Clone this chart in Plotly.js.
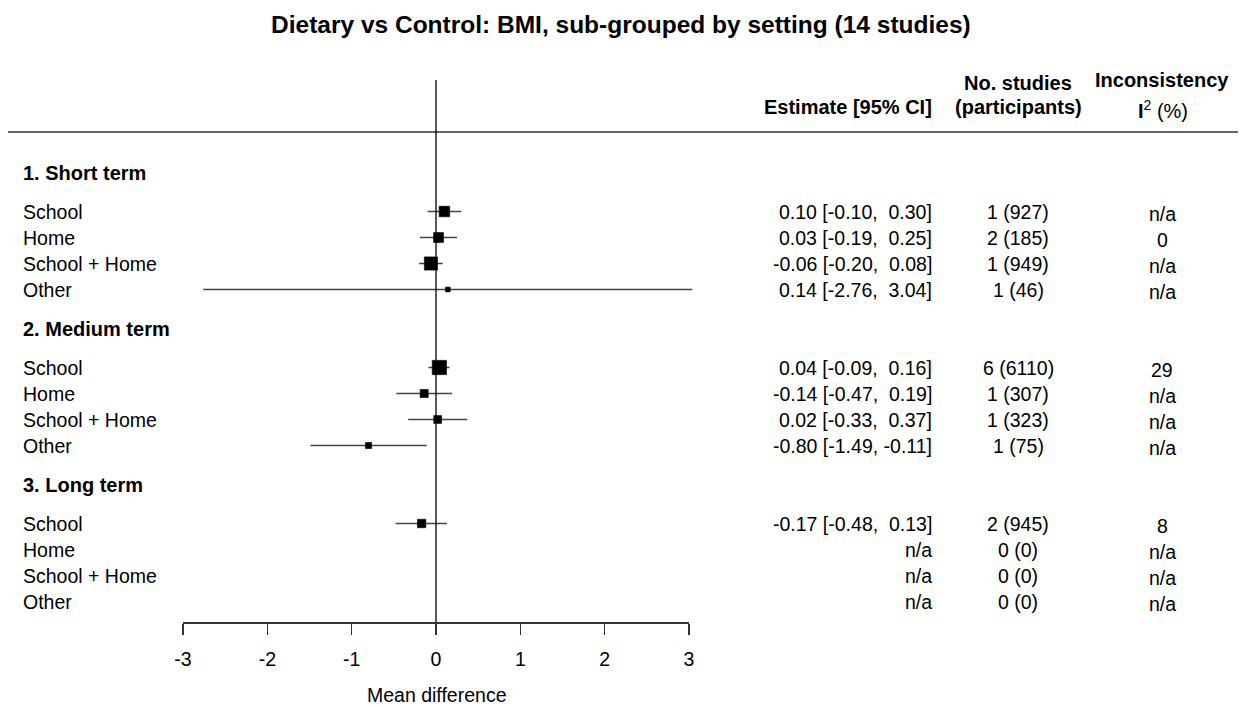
<!DOCTYPE html>
<html>
<head>
<meta charset="utf-8">
<script src="https://cdn.plot.ly/plotly-3.0.1.min.js"></script>
<style>html,body{margin:0;padding:0;background:#fff;}#chart{width:1240px;height:706px;}</style>
</head>
<body>
<div id="chart"></div>
<script>
// ---------------- data ----------------
const chartTitle = "Dietary vs Control: BMI, sub-grouped by setting (14 studies)";
const groups = ["1. Short term", "2. Medium term", "3. Long term"];
const settings = ["School", "Home", "School + Home", "Other"];
const estimate = [0.10, 0.03, -0.06, 0.14,   0.04, -0.14, 0.02, -0.80,   -0.17, null, null, null];
const ciLower  = [-0.10, -0.19, -0.20, -2.76, -0.09, -0.47, -0.33, -1.49, -0.48, null, null, null];
const ciUpper  = [0.30, 0.25, 0.08, 3.04,    0.16, 0.19, 0.37, -0.11,    0.13, null, null, null];
const nStudies = [1, 2, 1, 1,   6, 1, 1, 1,   2, 0, 0, 0];
const participants = [927, 185, 949, 46,   6110, 307, 323, 75,   945, 0, 0, 0];
const i2 = [null, 0, null, null,   29, null, null, null,   8, null, null, null];
const tickValues = [-3, -2, -1, 0, 1, 2, 3];
const tickLabels = ["-3", "-2", "-1", "0", "1", "2", "3"];
const xAxisTitle = "Mean difference";

// ---------------- layout geometry ----------------
const W = 1240, H = 706;
const axLeftPx = 183, axRightPx = 689, axisPx = 622;
const pxPerUnit = (axRightPx - axLeftPx) / (tickValues[tickValues.length-1] - tickValues[0]);
const xMin = tickValues[0] - axLeftPx / pxPerUnit;
const xMax = tickValues[0] + (W - axLeftPx) / pxPerUnit;
const rowH = 26, firstHeader = 172.5;
const FONT = "Liberation Sans, Arial, sans-serif";
const fs = 19.5;

const headerY = groups.map((g, gi) => firstHeader + gi * 6 * rowH);
const rowY = [];
groups.forEach((g, gi) => settings.forEach((s, si) => rowY.push(headerY[gi] + 1.5 * rowH + si * rowH)));

// CI lines
const lx = [], ly = [];
estimate.forEach((e, i) => {
  if (e === null) return;
  lx.push(ciLower[i], ciUpper[i], null);
  ly.push(rowY[i], rowY[i], null);
});

// square sizes from precision (1/SE)
const prec = estimate.map((e, i) => e === null ? null : 3.92 / (ciUpper[i] - ciLower[i]));
const pv = prec.filter(p => p !== null);
const pmin = Math.min(...pv), pmax = Math.max(...pv);
const baseSize = 9.5;
const sizes = prec.map(p => p === null ? 0 : baseSize * (0.5 + (p - pmin) / (pmax - pmin)));

const pts = estimate.map((e, i) => ({e, y: rowY[i], s: sizes[i]})).filter(p => p.e !== null);

const traces = [
  {x: lx, y: ly, mode: "lines", line: {color: "#444", width: 1.5}, hoverinfo: "skip", xaxis: "x", yaxis: "y"},
  {x: pts.map(p => p.e), y: pts.map(p => p.y), mode: "markers",
   marker: {symbol: "square", color: "#000", size: pts.map(p => p.s), opacity: 1, line: {width: 0.6, color: "#000"}},
   hoverinfo: "skip", xaxis: "x", yaxis: "y"},
  {x: [0], y: [0], mode: "markers", marker: {opacity: 0}, hoverinfo: "skip", xaxis: "x2", yaxis: "y2"}
];

const ann = [];
const A = (txt, xpx, y, anchor, opts) => ann.push(Object.assign({
  text: txt, xref: "paper", x: xpx / W, yref: "y", y: y, xanchor: anchor, yanchor: "middle",
  showarrow: false, font: {family: FONT, size: fs, color: "#000"}
}, opts || {}));

// title
ann.push({text: "<b>" + chartTitle + "</b>", xref: "paper", yref: "paper", x: 621 / W, y: 1 - 24 / H,
  xanchor: "center", yanchor: "middle", showarrow: false, font: {family: FONT, size: 24.5, color: "#000"}});

// column headers
const hf = {font: {family: FONT, size: 20, color: "#000"}};
A("<b>Estimate [95% CI]</b>", 934, 107, "right", hf);
A("<b>No. studies</b>", 1018, 83, "center", hf);
A("<b>(participants)</b>", 1018, 107, "center", hf);
A("<b>Inconsistency</b>", 1162, 80, "center", hf);
A("<b>I</b><sup>2</sup> (%)", 1163, 109, "center", hf);

// group headers and rows
groups.forEach((g, gi) => A("<b>" + g + "</b>", 21, headerY[gi], "left", hf));
const fmt = v => { const s = v.toFixed(2); return " ".repeat(Math.max(0, 5 - s.length)) + s; };
rowY.forEach((y, i) => {
  A(settings[i % settings.length], 21, y, "left");
  const e = estimate[i];
  const est = e === null ? "n/a" : e.toFixed(2) + " [" + fmt(ciLower[i]) + ", " + fmt(ciUpper[i]) + "]";
  A(est.replace(/ /g, "\u00a0"), 934, y, "right");
  A(nStudies[i] + " (" + participants[i] + ")", 1018, y, "center");
  A(i2[i] === null ? "n/a" : String(i2[i]), 1162, y + 2, "center");
});

// axis title
ann.push({text: xAxisTitle, xref: "paper", yref: "paper", x: 436 / W, y: 1 - 695 / H,
  xanchor: "center", yanchor: "middle", showarrow: false, font: {family: FONT, size: fs, color: "#000"}});

const shapes = [
  {type: "line", xref: "paper", yref: "y", x0: 8 / W, x1: 1238 / W, y0: 132, y1: 132, line: {color: "#333", width: 1.5}},
  {type: "line", xref: "x", yref: "y", x0: 0, x1: 0, y0: 80, y1: axisPx, line: {color: "#000", width: 1.3}}
];

const layout = {
  width: W, height: H, margin: {l: 0, r: 0, t: 0, b: 0},
  paper_bgcolor: "#fff", plot_bgcolor: "rgba(0,0,0,0)", showlegend: false,
  xaxis: {domain: [0, 1], range: [xMin, xMax], visible: false, fixedrange: true},
  yaxis: {domain: [0, 1], range: [H, 0], visible: false, fixedrange: true},
  xaxis2: {domain: [axLeftPx / W, axRightPx / W], range: [tickValues[0], tickValues[tickValues.length-1]],
    anchor: "y2", side: "bottom", showline: true, linecolor: "#333", linewidth: 1.5,
    ticks: "outside", ticklen: 11, tickwidth: 1.5, tickcolor: "#333", ticklabelstandoff: 8,
    tickmode: "array", tickvals: tickValues, ticktext: tickLabels,
    tickfont: {family: FONT, size: fs, color: "#000"}, showgrid: false, zeroline: false, fixedrange: true},
  yaxis2: {domain: [(H - axisPx) / H, (H - axisPx) / H + 0.05], anchor: "x2", visible: false, fixedrange: true},
  annotations: ann, shapes: shapes
};

Plotly.newPlot("chart", traces, layout, {staticPlot: true, displayModeBar: false});
</script>
</body>
</html>
